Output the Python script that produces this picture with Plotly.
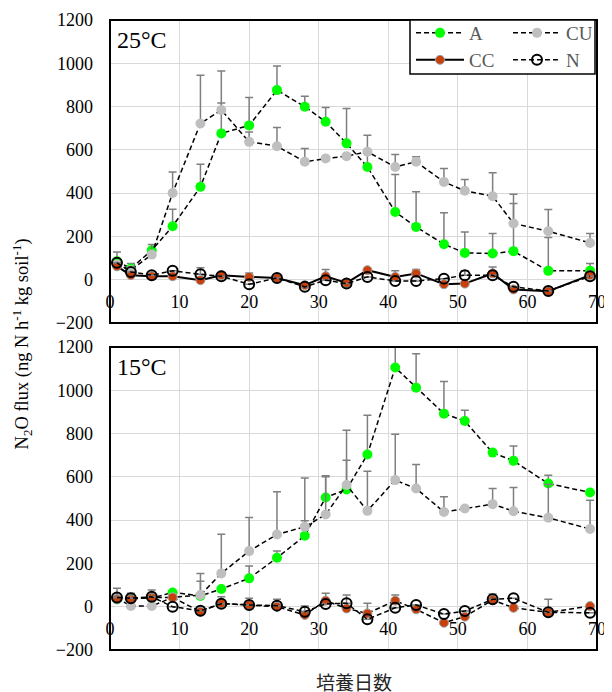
import plotly.graph_objects as go

days = [1, 3, 6, 9, 13, 16, 20, 24, 28, 31, 34, 37, 41, 44, 48, 51, 55, 58, 63, 69]

# 25°C panel
a25 = [85, 52, 136, 247, 429, 676, 713, 876, 799, 730, 630, 521, 313, 244, 164, 124, 121, 132, 41, 41]
a25_err = [43, 23, 0, 79, 104, 141, 129, 112, 49, 66, 161, 75, 173, 162, 145, 97, 93, 220, 154, 34]
cu25 = [70, 45, 116, 401, 722, 784, 637, 617, 545, 560, 571, 591, 521, 545, 452, 411, 386, 260, 224, 170]
cu25_err = [0, 0, 47, 97, 223, 180, 46, 86, 61, 10, 10, 77, 58, 23, 62, 52, 108, 135, 100, 44]
cc25 = [62, 21, 16, 16, -2, 21, 13, 8, -25, 16, -15, 44, 13, 29, -21, -18, 29, -45, -53, 21]
cc25_err = [0, 0, 0, 0, 0, 0, 18, 0, 0, 31, 0, 0, 28, 18, 0, 0, 30, 0, 0, 0]
n25 = [78, 36, 21, 41, 25, 16, -21, 8, -33, -2, -18, 13, -6, -6, 5, 21, 21, -33, -52, 16]
n25_err = [0, 0, 0, 0, 30, 0, 0, 0, 0, 0, 0, 0, 0, 0, 0, 20, 0, 0, 0, 0]

# 15°C panel
a15 = [35, 39, 40, 66, 50, 82, 131, 226, 328, 505, 542, 703, 1105, 1012, 892, 858, 712, 674, 569, 528]
a15_err = [0, 0, 0, 0, 68, 0, 57, 31, 69, 100, 135, 182, 150, 157, 149, 50, 0, 69, 39, 0]
cu15 = [40, 3, 3, 43, 54, 154, 257, 334, 369, 426, 562, 443, 585, 546, 438, 454, 474, 441, 411, 359]
cu15_err = [0, 0, 0, 0, 100, 181, 155, 197, 226, 175, 253, 183, 212, 111, 70, 0, 72, 110, 155, 133]
cc15 = [34, 35, 43, 43, -23, 16, 8, 0, -38, 28, -8, -31, 28, -12, -74, -46, 31, -5, -26, 3]
cc15_err = [0, 0, 0, 0, 0, 30, 31, 35, 41, 34, 62, 47, 26, 0, 0, 0, 28, 0, 61, 0]
n15 = [43, 39, 46, 0, -19, 14, 8, 5, -23, 13, 16, -58, -5, 8, -34, -20, 34, 39, -26, -28]
n15_err = [42, 23, 31, 0, 0, 0, 0, 0, 0, 0, 0, 0, 0, 0, 0, 0, 0, 0, 0, 0]

series_names = ["A", "CU", "CC", "N"]
x_ticks = [0, 10, 20, 30, 40, 50, 60, 70]
y_ticks = [-200, 0, 200, 400, 600, 800, 1000, 1200]
panel_labels = ["25°C", "15°C"]
x_title = "培養日数"
y_title = "N<sub>2</sub>O flux (ng N h<sup>-1</sup> kg soil<sup>-1</sup>)"

GREEN = "#00FF00"
GRAY = "#BFBFBF"
RED = "#C8400C"
ERR = "#7F7F7F"
DASH = "5px,3px"
SERIF = "Liberation Serif"

# the page body adds an 8px offset, so the figure is laid out 8px up/left
W, H = 612, 692
ML, MR, MT, MB = 102, 23, 12, 50
PH = H - MT - MB
PW = W - ML - MR
panel_h = 303
top_dom = [(PH - panel_h) / PH, 1.0]
bot_dom = [0.0, panel_h / PH]
yr = [-200, 1200]


def zero_pos(dom):
    return dom[0] + (0 - yr[0]) / (yr[1] - yr[0]) * (dom[1] - dom[0])


def err(arr):
    return dict(type="data", symmetric=False, array=arr, arrayminus=[0] * len(arr),
                color=ERR, thickness=1.5, width=4)


fig = go.Figure()

panels = [
    ("x", "y", a25, a25_err, cu25, cu25_err, cc25, cc25_err, n25, n25_err, True),
    ("x2", "y2", a15, a15_err, cu15, cu15_err, cc15, cc15_err, n15, n15_err, False),
]

for xa, ya, a, ae, cu, cue, cc, cce, n, ne, top in panels:
    fig.add_trace(go.Scatter(
        x=days, y=a, error_y=err(ae), mode="lines+markers", name=series_names[0],
        line=dict(color="black", width=1.5, dash=DASH),
        marker=dict(color=GREEN, size=10, line=dict(width=0)),
        xaxis=xa, yaxis=ya, showlegend=top, legend="legend"))
    fig.add_trace(go.Scatter(
        x=days, y=cu, error_y=err(cue), mode="lines+markers", name=series_names[1],
        line=dict(color="black", width=1.5, dash=DASH),
        marker=dict(color=GRAY, size=10, line=dict(width=0)),
        xaxis=xa, yaxis=ya, showlegend=top, legend="legend"))
    fig.add_trace(go.Scatter(
        x=days, y=cc, error_y=err(cce), mode="lines+markers", name=series_names[2],
        line=dict(color="black", width=2 if top else 1.5, dash="solid" if top else DASH),
        marker=dict(color=RED, size=9, line=dict(color="#A0A0A0", width=1)),
        xaxis=xa, yaxis=ya, showlegend=top, legend="legend2"))
    fig.add_trace(go.Scatter(
        x=days, y=n, error_y=err(ne), mode="lines+markers", name=series_names[3],
        line=dict(color="black", width=1.5, dash=DASH),
        marker=dict(color="black", size=10, symbol="circle-open", line=dict(color="black", width=2)),
        xaxis=xa, yaxis=ya, showlegend=top, legend="legend2"))

axis_font = dict(family=SERIF, size=18, color="black")
xcommon = dict(range=[0, 70], tickvals=x_ticks, showgrid=True, gridcolor="#D9D9D9", gridwidth=1,
               zeroline=False, showline=False, ticks="", tickfont=axis_font, ticklabelstandoff=9)
ycommon = dict(range=yr, tickvals=y_ticks, showgrid=True, gridcolor="#D9D9D9", gridwidth=1,
               zeroline=False, showline=False, ticks="", tickfont=axis_font, ticklabelstandoff=16)

leg_x = (410 - 110) / PW
leg_common = dict(orientation="h", xanchor="left", yanchor="top", x=(411 - 110) / PW,
                  font=dict(family=SERIF, size=19, color="#595959"),
                  bgcolor="rgba(0,0,0,0)", borderwidth=0, itemwidth=48,
                  entrywidth=34, entrywidthmode="pixels", tracegroupgap=0)

fig.update_layout(
    width=W, height=H,
    margin=dict(l=ML, r=MR, t=MT, b=MB, autoexpand=False),
    paper_bgcolor="white", plot_bgcolor="white",
    xaxis=dict(**xcommon, anchor="free", position=zero_pos(top_dom)),
    yaxis=dict(**ycommon, domain=top_dom, anchor="x"),
    xaxis2=dict(**xcommon, anchor="free", position=zero_pos(bot_dom)),
    yaxis2=dict(**ycommon, domain=bot_dom, anchor="x2"),
    legend=dict(**leg_common, y=1 + 6 / PH),
    legend2=dict(**leg_common, y=1 - 21 / PH),
)

shapes = []
for xr, yref in [("x domain", "y domain"), ("x2 domain", "y2 domain")]:
    shapes.append(dict(type="rect", xref=xr, yref=yref, x0=0, x1=1, y0=0, y1=1,
                       line=dict(color="black", width=2), layer="above"))
shapes.append(dict(type="rect", xref="paper", yref="paper",
                   x0=leg_x, x1=(595 - 110) / PW, y0=(PH - (74 - 20)) / PH, y1=1,
                   line=dict(color="black", width=1.5), fillcolor="white", layer="above"))
fig.update_layout(shapes=shapes)

annotations = []
for lbl, xr, yref in [(panel_labels[0], "x domain", "y domain"), (panel_labels[1], "x2 domain", "y2 domain")]:
    annotations.append(dict(text=lbl, xref=xr, yref=yref, x=0, y=1, xanchor="left", yanchor="top",
                            xshift=5, yshift=-5, showarrow=False,
                            font=dict(family=SERIF, size=24, color="black")))
annotations.append(dict(text=x_title, xref="paper", yref="paper", x=0.5, y=0, yanchor="middle",
                        yshift=-31, showarrow=False,
                        font=dict(family="Noto Sans CJK JP", size=19, color="#262626")))
annotations.append(dict(text=y_title, xref="paper", yref="paper", x=(22 - 110) / PW, y=0.485,
                        xanchor="center", yanchor="middle", textangle=-90, showarrow=False,
                        font=dict(family=SERIF, size=18.5, color="black")))
fig.update_layout(annotations=annotations)

fig.write_html("out.html")
